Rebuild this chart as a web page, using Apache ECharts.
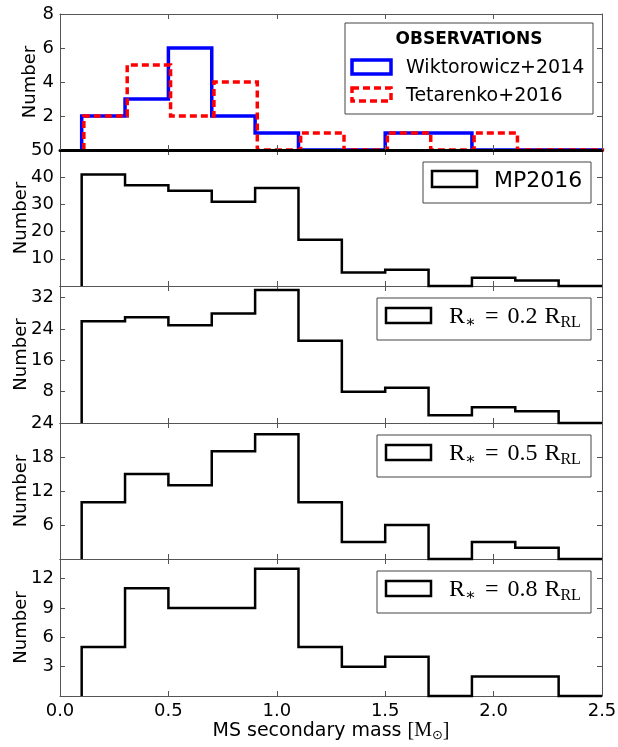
<!DOCTYPE html>
<html><head><meta charset="utf-8">
<script src="https://cdn.jsdelivr.net/npm/echarts@6/dist/echarts.min.js"></script>
<style>html,body{margin:0;padding:0;background:#fff}#c{width:618px;height:747px}</style>
</head><body><div id="c"></div>
<script>
// ---- data ----
const binEdges = [0.1, 0.3, 0.5, 0.7, 0.9, 1.1, 1.3, 1.5, 1.7, 1.9, 2.1, 2.3, 2.5];
const wiktorowicz2014 = [2, 3, 6, 2, 1, 0, 0, 1, 1, 0, 0, 0];
const tetarenko2016 = [2, 5, 2, 4, 0, 1, 0, 1, 0, 1, 0, 0];
const mp2016 = [41, 37, 35, 31, 36, 17, 5, 6, 0, 3, 2, 0];
const r02 = [26, 27, 25, 28, 34, 21, 8, 9, 2, 4, 3, 0];
const r05 = [10, 15, 13, 19, 22, 10, 3, 6, 0, 3, 2, 0];
const r08 = [5, 11, 9, 9, 13, 5, 3, 4, 0, 2, 2, 0];
const xTickValues = [0, 0.5, 1.0, 1.5, 2.0, 2.5];
const yMaxes = [8, 50, 35, 24, 14];
const yIntervals = [2, 10, 8, 6, 3];
const yTickLabels = [[2, 4, 6, 8], [10, 20, 30, 40, 50], [8, 16, 24, 32], [6, 12, 18, 24], [3, 6, 9, 12]];
const obsTitle = 'OBSERVATIONS';
const obsNames = ['Wiktorowicz+2014', 'Tetarenko+2016'];
const modelName = 'MP2016';
const rocheFractions = ['0.2', '0.5', '0.8'];
const yLabel = 'Number';
const xLabelText = 'MS secondary mass ';

// ---- layout ----
const L = 60, W = 542;
const tops = [14, 150, 286, 423, 559];
const heights = [136, 136, 137, 136, 137];
const yNameGaps = [21, 30, 30, 30, 30];
const tetShift = 0.01; // small visual offset of dotted outline
const FRAME = '#555';

function stepPath(vals, shift) {
  const s = shift || 0;
  const pts = [[binEdges[0] + s, 0]];
  for (let i = 0; i < vals.length; i++) {
    pts.push([binEdges[i] + s, vals[i]]);
    pts.push([binEdges[i + 1] + s, vals[i]]);
  }
  pts.push([binEdges[binEdges.length - 1] + s, 0]);
  return pts;
}

const grids = [], xAxes = [], yAxes = [], series = [];
for (let i = 0; i < 5; i++) {
  grids.push({ left: L, width: W, top: tops[i], height: heights[i], containLabel: false, outerBoundsMode: 'none' });
  const last = i === 4;
  xAxes.push({
    type: 'value', gridIndex: i, min: 0, max: 2.5, interval: 0.5, position: 'bottom',
    axisLine: { show: true, onZero: false, lineStyle: { color: i === 0 ? '#000' : FRAME, width: i === 0 ? 3 : 1 } },
    axisTick: { show: true, inside: true, length: 5, lineStyle: { color: FRAME } },
    axisLabel: { show: last, fontFamily: 'DejaVu Sans', fontSize: 18, color: '#000', margin: 6,
      formatter: v => xTickValues.includes(v) ? v.toFixed(1) : '' },
    splitLine: { show: false },
    z: i === 0 ? 5 : 0
  });
  xAxes.push({
    type: 'value', gridIndex: i, min: 0, max: 2.5, interval: 0.5, position: 'top',
    axisLine: { show: true, onZero: false, lineStyle: { color: FRAME, width: 1 } },
    axisTick: { show: true, inside: true, length: 5, lineStyle: { color: FRAME } },
    axisLabel: { show: false }, splitLine: { show: false }
  });
  const labs = yTickLabels[i];
  yAxes.push({
    type: 'value', gridIndex: i, min: 0, max: yMaxes[i], interval: yIntervals[i], position: 'left',
    axisLine: { show: true, onZero: false, lineStyle: { color: FRAME, width: 1 } },
    axisTick: { show: true, inside: true, length: 5, lineStyle: { color: FRAME } },
    axisLabel: { fontFamily: 'DejaVu Sans', fontSize: 18, color: '#000', margin: 6,
      formatter: v => labs.includes(v) ? String(v) : '' },
    splitLine: { show: false },
    name: yLabel, nameLocation: 'middle', nameRotate: 90, nameGap: yNameGaps[i], nameMoveOverlap: false,
    nameTextStyle: { fontFamily: 'DejaVu Sans', fontSize: 18, color: '#000' }
  });
  yAxes.push({
    type: 'value', gridIndex: i, min: 0, max: yMaxes[i], interval: yIntervals[i], position: 'right',
    axisLine: { show: true, onZero: false, lineStyle: { color: FRAME, width: 1 } },
    axisTick: { show: true, inside: true, length: 5, lineStyle: { color: FRAME } },
    axisLabel: { show: false }, splitLine: { show: false }
  });
}

function stepSeries(name, vals, gi, color, width, dash, shift, clip) {
  return {
    name, type: 'line', xAxisIndex: gi * 2, yAxisIndex: gi * 2, data: stepPath(vals, shift),
    showSymbol: false, symbol: 'none', clip: !!clip, animation: false,
    lineStyle: { color, width, type: dash || 'solid', join: 'miter', cap: 'butt' },
    z: 2
  };
}
series.push(stepSeries(obsNames[0], wiktorowicz2014, 0, '#0000ff', 3.5, null, 0, true));
series.push(stepSeries(obsNames[1], tetarenko2016, 0, '#ff0000', 3.5, [7, 4], tetShift, true));
series.push(stepSeries(modelName, mp2016, 1, '#000', 2.5));
series.push(stepSeries('R* = 0.2 R_RL', r02, 2, '#000', 2.5));
series.push(stepSeries('R* = 0.5 R_RL', r05, 3, '#000', 2.5));
series.push(stepSeries('R* = 0.8 R_RL', r08, 4, '#000', 2.5));

// ---- legends & composed labels (graphic) ----
const g = [];
const mctx = document.createElement('canvas').getContext('2d');
function mw(text, font) { mctx.font = font; return mctx.measureText(text).width; }
function compose(x, cy, tokens, align) {
  let total = 0;
  tokens.forEach(tk => { tk.w = mw(tk.t, tk.f); total += (tk.gap || 0) + tk.w; });
  let cx = align === 'center' ? x - total / 2 : x;
  tokens.forEach(tk => {
    cx += tk.gap || 0;
    g.push({ type: 'text', x: cx, y: cy + (tk.dy || 0), z: 12, silent: true,
      style: { text: tk.t, font: tk.f, fill: '#000', textAlign: 'left', textVerticalAlign: 'middle' } });
    cx += tk.w;
  });
}
function box(x, y, w, h) {
  g.push({ type: 'rect', shape: { x, y, width: w, height: h }, style: { fill: '#fff', stroke: '#444', lineWidth: 1 }, z: 10 });
}
function handle(x, y, w, h, color, lw, dash) {
  g.push({ type: 'rect', shape: { x, y, width: w, height: h }, style: { fill: 'none', stroke: color, lineWidth: lw, lineDash: dash || null }, z: 11 });
}
function txt(x, y, text, font, extra) {
  g.push({ type: 'text', x, y, z: 12, style: Object.assign({ text, font, fill: '#000', textAlign: 'left', textVerticalAlign: 'middle' }, extra || {}) });
}
// panel 1
box(345, 23, 248, 91);
txt(469, 40, obsTitle, 'bold 17px "DejaVu Sans"', { textAlign: 'center' });
handle(352, 60, 39, 14, '#0000ff', 3.5);
txt(406, 68, obsNames[0], '19px "DejaVu Sans"');
handle(352, 88, 39, 13, '#ff0000', 3.5, [7, 4]);
txt(406, 96, obsNames[1], '19px "DejaVu Sans"');
// panel 2
box(423, 162, 168, 41);
handle(432, 171, 45, 16, '#000', 2.5);
txt(494, 181, modelName, '22px "DejaVu Sans"');
// panels 3-5
const MF = '24px "Liberation Serif", "DejaVu Serif"';
const SF = '16px "Liberation Serif", "DejaVu Serif"';
for (let k = 0; k < 3; k++) {
  const t = tops[k + 2];
  box(377, t + 12, 214, 42);
  handle(386, t + 22, 45, 15, '#000', 2.5);
  compose(449, t + 31, [
    { t: 'R', f: MF },
    { t: '∗', f: SF, dy: 6 },
    { t: '=', f: MF, gap: 9 },
    { t: rocheFractions[k], f: MF, gap: 9 },
    { t: 'R', f: MF, gap: 7 },
    { t: 'RL', f: SF, dy: 6 }
  ], 'left');
}
// x-axis label
compose(331, 731, [
  { t: xLabelText, f: '19px "DejaVu Sans"' },
  { t: '[M', f: '20px "Liberation Serif", "DejaVu Serif"' },
  { t: '⊙', f: '13px "DejaVu Sans"', dy: 5 },
  { t: ']', f: '20px "Liberation Serif", "DejaVu Serif"' }
], 'center');

const chart = echarts.init(document.getElementById('c'), null, { renderer: 'canvas' });
chart.setOption({
  animation: false,
  backgroundColor: '#fff',
  grid: grids, xAxis: xAxes, yAxis: yAxes, series, graphic: g
});
</script></body></html>
